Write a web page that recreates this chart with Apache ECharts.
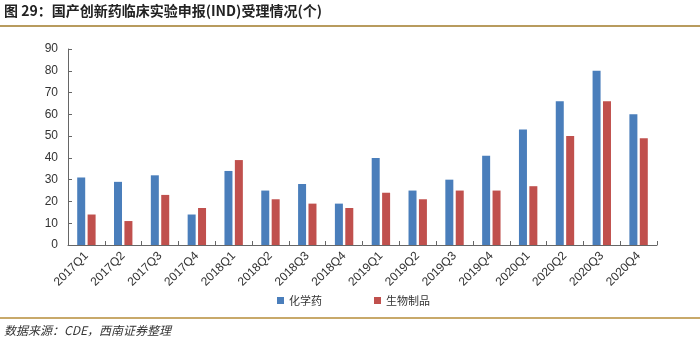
<!DOCTYPE html>
<html><head><meta charset="utf-8">
<script src="https://cdn.jsdelivr.net/npm/echarts@6/dist/echarts.min.js"></script>
<style>html,body{margin:0;padding:0;background:#fff}#c{width:700px;height:348px}</style>
</head><body><div id="c"></div>
<script>
var categories = ["2017Q1","2017Q2","2017Q3","2017Q4","2018Q1","2018Q2","2018Q3","2018Q4","2019Q1","2019Q2","2019Q3","2019Q4","2020Q1","2020Q2","2020Q3","2020Q4"];
var chemical = [31,29,32,14,34,25,28,19,40,25,30,41,53,66,80,60];
var biologic = [14,11,23,17,39,21,19,17,24,21,25,25,27,50,66,49];
var seriesNames = ["化学药","生物制品"];
var titleText = "图 29：国产创新药临床实验申报(IND)受理情况(个)";
var sourceText = "数据来源：CDE，西南证券整理";

var chart = echarts.init(document.getElementById('c'));
chart.setOption({
  animation: false,
  textStyle: {fontFamily: 'Liberation Sans, Noto Sans CJK SC, sans-serif'},
  graphic: [
    {type:'text', left:4, top:4, style:{text:titleText, font:'bold 14px "Noto Sans CJK SC", sans-serif', fill:'#222'}},
    {type:'rect', shape:{x:0,y:25,width:700,height:2}, style:{fill:'#b89b5e'}},
    {type:'rect', shape:{x:0,y:317,width:700,height:2}, style:{fill:'#c8a96a'}},
    {type:'text', left:4, top:324, style:{text:sourceText, font:'italic 12px "Noto Sans CJK SC", sans-serif', fill:'#333'}}
  ],
  legend: {
    data: seriesNames, left: 272, top: 290, itemWidth: 7, itemHeight: 7, itemGap: 52,
    icon: 'rect', textStyle: {fontSize: 11, color: '#333', fontFamily: 'Noto Sans CJK SC'}
  },
  grid: {left: 68, right: 43, top: 49, bottom: 103},
  xAxis: {
    type: 'category', data: categories,
    axisLine: {lineStyle: {color: '#666'}},
    axisTick: {show: true, inside: true, length: 4, lineStyle: {color:'#666'}},
    axisLabel: {rotate: 45, fontSize: 12, color: '#333', interval: 0, margin: 9}
  },
  yAxis: {
    type: 'value', min: 0, max: 90, interval: 10,
    axisLine: {show: true, lineStyle: {color: '#666'}},
    axisTick: {show: true, inside: true, length: 4, lineStyle: {color:'#666'}},
    splitLine: {show: false},
    axisLabel: {fontSize: 12, color: '#333', margin: 10}
  },
  series: [
    {name: seriesNames[0], type: 'bar', data: chemical, barWidth: 8, barGap: '30%', itemStyle: {color: '#4a7ebb'}},
    {name: seriesNames[1], type: 'bar', data: biologic, barWidth: 8, itemStyle: {color: '#c0504d'}}
  ]
});
</script></body></html>
